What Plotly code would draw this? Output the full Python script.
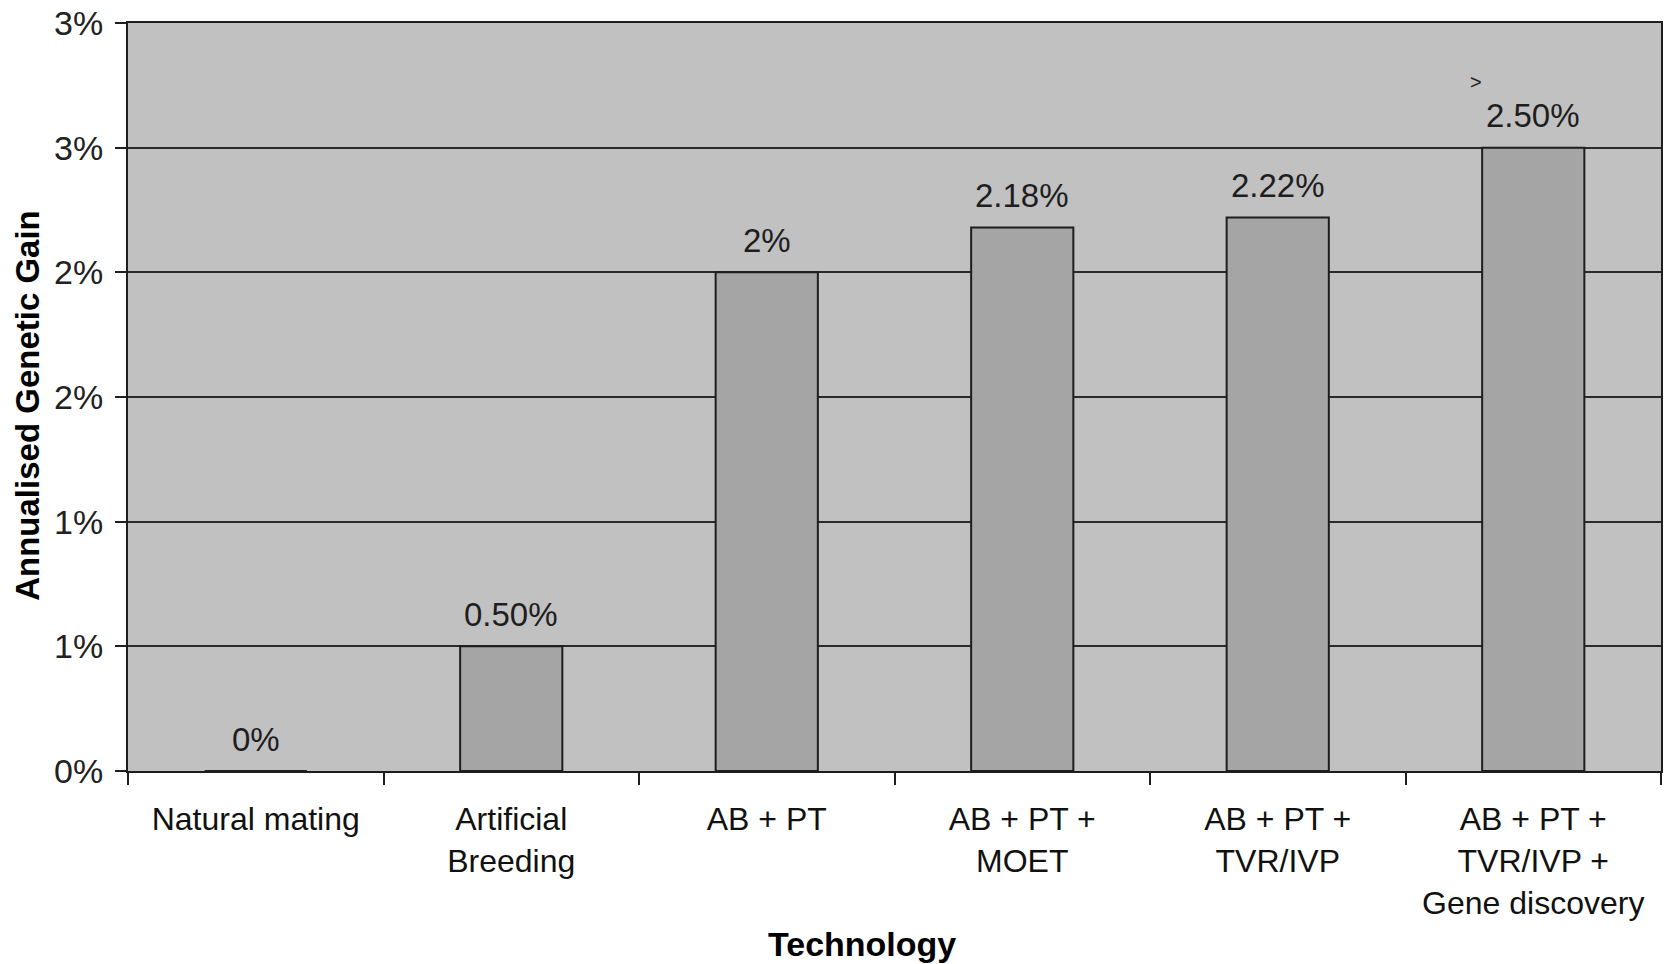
import plotly.graph_objects as go

# Technologies and their annualised genetic gain (percent)
categories = [
    "Natural mating",
    "Artificial<br>Breeding",
    "AB + PT",
    "AB + PT +<br>MOET",
    "AB + PT +<br>TVR/IVP",
    "AB + PT +<br>TVR/IVP +<br>Gene discovery",
]
gain = [0.0, 0.5, 2.0, 2.18, 2.22, 2.5]
gain_labels = ["0%", "0.50%", "2%", "2.18%", "2.22%", "2.50%"]

y_tickvals = [0, 0.5, 1.0, 1.5, 2.0, 2.5, 3.0]
y_ticktext = ["0%", "1%", "1%", "2%", "2%", "3%", "3%"]

FONT = "Liberation Sans, Arial, Helvetica, sans-serif"
INK = "#1e1e1e"

fig = go.Figure()
fig.add_trace(go.Bar(
    x=categories,
    y=gain,
    width=0.4,
    marker=dict(color="#a5a5a5", line=dict(color=INK, width=2)),
    hoverinfo="skip",
))

# value labels above each bar
for cat, val, lab in zip(categories, gain, gain_labels):
    fig.add_annotation(
        x=cat, y=val, text=lab, showarrow=False,
        yanchor="middle", yshift=32,
        font=dict(family=FONT, size=33, color=INK),
    )

# small marker above the last bar's label
fig.add_annotation(
    x=categories[-1], y=gain[-1], text=">", showarrow=False,
    yanchor="middle", xshift=-57, yshift=66,
    font=dict(family=FONT, size=20, color=INK),
)

# axis titles
fig.add_annotation(
    xref="paper", yref="paper", x=0.479, y=-0.231,
    text="<b>Technology</b>", showarrow=False,
    xanchor="center", yanchor="middle",
    font=dict(family=FONT, size=34, color="#000000"),
)
fig.add_annotation(
    xref="paper", yref="paper", x=-0.0655, y=0.489,
    text="<b>Annualised Genetic Gain</b>", showarrow=False,
    textangle=-90, xanchor="center", yanchor="middle",
    font=dict(family=FONT, size=33, color="#000000"),
)

fig.update_layout(
    width=1667, height=964,
    margin=dict(l=128, r=4, t=21, b=193),
    paper_bgcolor="#ffffff",
    plot_bgcolor="#c1c1c1",
    showlegend=False,
    bargap=0.6,
    font=dict(family=FONT, size=33, color=INK),
)

fig.update_xaxes(
    type="category",
    showline=True, mirror=True, linecolor=INK, linewidth=2,
    ticks="outside", tickson="boundaries", ticklen=12, tickwidth=2, tickcolor=INK,
    tickfont=dict(family=FONT, size=32, color="#111111"),
    ticklabelstandoff=19,
    showgrid=False,
)

fig.update_yaxes(
    range=[0, 3],
    tickvals=y_tickvals, ticktext=y_ticktext,
    showline=True, mirror=True, linecolor=INK, linewidth=2,
    ticks="outside", ticklen=11, tickwidth=2, tickcolor=INK,
    tickfont=dict(family=FONT, size=34, color="#222222"),
    ticklabelstandoff=5,
    showgrid=True, gridcolor="#2a2a2a", gridwidth=2,
    zeroline=False,
)

fig.write_html("out.html")
